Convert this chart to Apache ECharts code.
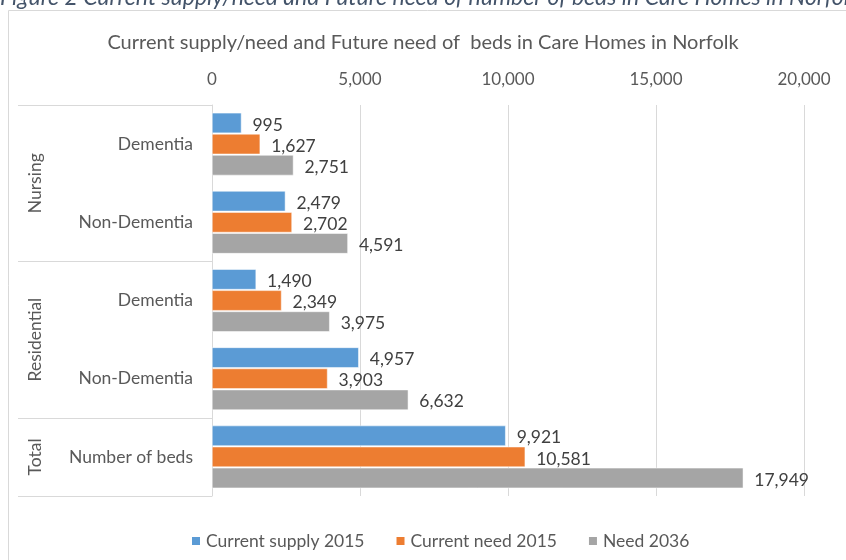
<!DOCTYPE html>
<html>
<head>
<meta charset="utf-8">
<script src="https://cdn.jsdelivr.net/npm/echarts@6/dist/echarts.min.js"></script>
<style>
  html, body { margin: 0; padding: 0; background: #fff; }
  #chart { width: 846px; height: 560px; }
</style>
</head>
<body>
<div id="chart"></div>
<script>
// categories, top to bottom
const categories = ['Dementia', 'Non-Dementia', 'Dementia', 'Non-Dementia', 'Number of beds'];
// group spans on a 0..5 scale: [label, start, end]
const groups = [['Nursing', 0, 2], ['Residential', 2, 4], ['Total', 4, 5]];

const supply2015 = [995, 2479, 1490, 4957, 9921];
const need2015 = [1627, 2702, 2349, 3903, 10581];
const need2036 = [2751, 4591, 3975, 6632, 17949];

const seriesNames = ['Current supply 2015', 'Current need 2015', 'Need 2036'];
const colors = ['#5B9BD5', '#ED7D31', '#A5A5A5'];

const FONT = 'Lato, "Open Sans", sans-serif';
const fmt = v => Number(v).toLocaleString('en-US');

const chart = echarts.init(document.getElementById('chart'));

const groupTicks = [];
groups.forEach(g => { if (!groupTicks.includes(g[1])) groupTicks.push(g[1]); groupTicks.push(g[2]); });
const groupMids = groups.map(g => (g[1] + g[2]) / 2);

const option = {
  animation: false,
  color: colors,
  title: {
    text: 'Current supply/need and Future need of  beds in Care Homes in Norfolk',
    left: 'center',
    top: 28,
    textStyle: { fontFamily: FONT, fontSize: 20, fontWeight: 'normal', color: '#595959' }
  },
  graphic: [
    {
      type: 'rect',
      shape: { x: 8.5, y: 10.5, width: 850, height: 560 },
      style: { fill: 'none', stroke: '#d9d9d9', lineWidth: 1 },
      silent: true
    },
    {
      type: 'text',
      left: 0,
      top: -14,
      style: {
        text: 'Figure 2 Current supply/need and Future need of number of beds in Care Homes in Norfolk',
        font: 'italic 23px ' + FONT,
        fill: '#44546A'
      }
    }
  ],
  legend: {
    bottom: 5,
    left: 185,
    itemWidth: 10,
    itemHeight: 10,
    itemGap: 30,
    icon: 'rect',
    textStyle: { fontFamily: FONT, fontSize: 17.5, color: '#595959' },
    data: seriesNames
  },
  grid: { left: 212, right: 42, top: 105, bottom: 64 },
  xAxis: {
    type: 'value',
    position: 'top',
    min: 0,
    max: 20000,
    interval: 5000,
    axisLine: { show: false },
    axisTick: { show: false },
    axisLabel: { fontFamily: FONT, fontSize: 17, color: '#595959', margin: 17, formatter: fmt },
    splitLine: { lineStyle: { color: '#d9d9d9' } }
  },
  yAxis: [
    {
      type: 'category',
      data: categories,
      inverse: true,
      axisLine: { lineStyle: { color: '#d9d9d9' } },
      axisTick: { show: false },
      axisLabel: { fontFamily: FONT, fontSize: 17.5, color: '#595959', margin: 19 }
    },
    {
      type: 'value',
      position: 'left',
      min: 0,
      max: 5,
      inverse: true,
      axisLine: { show: false },
      splitLine: { show: false },
      axisTick: {
        show: true,
        customValues: groupTicks,
        length: 194,
        lineStyle: { color: '#d9d9d9' }
      },
      axisLabel: {
        customValues: groupMids,
        rotate: 90,
        margin: 168,
        fontFamily: FONT,
        fontSize: 17.5,
        color: '#595959',
        formatter: v => {
          const g = groups.find(x => (x[1] + x[2]) / 2 === v);
          return g ? g[0] : '';
        }
      }
    }
  ],
  series: [supply2015, need2015, need2036].map((d, i) => ({
    name: seriesNames[i],
    type: 'bar',
    yAxisIndex: 0,
    data: d,
    barGap: '4%',
    barCategoryGap: '20%',
    itemStyle: { borderColor: '#ffffff', borderWidth: 0.5 },
    label: {
      show: true,
      position: 'right',
      distance: 11,
      fontFamily: FONT,
      fontSize: 17.5,
      color: '#404040',
      offset: [0, 2],
      formatter: p => fmt(p.value)
    }
  }))
};

chart.setOption(option);
</script>
</body>
</html>
